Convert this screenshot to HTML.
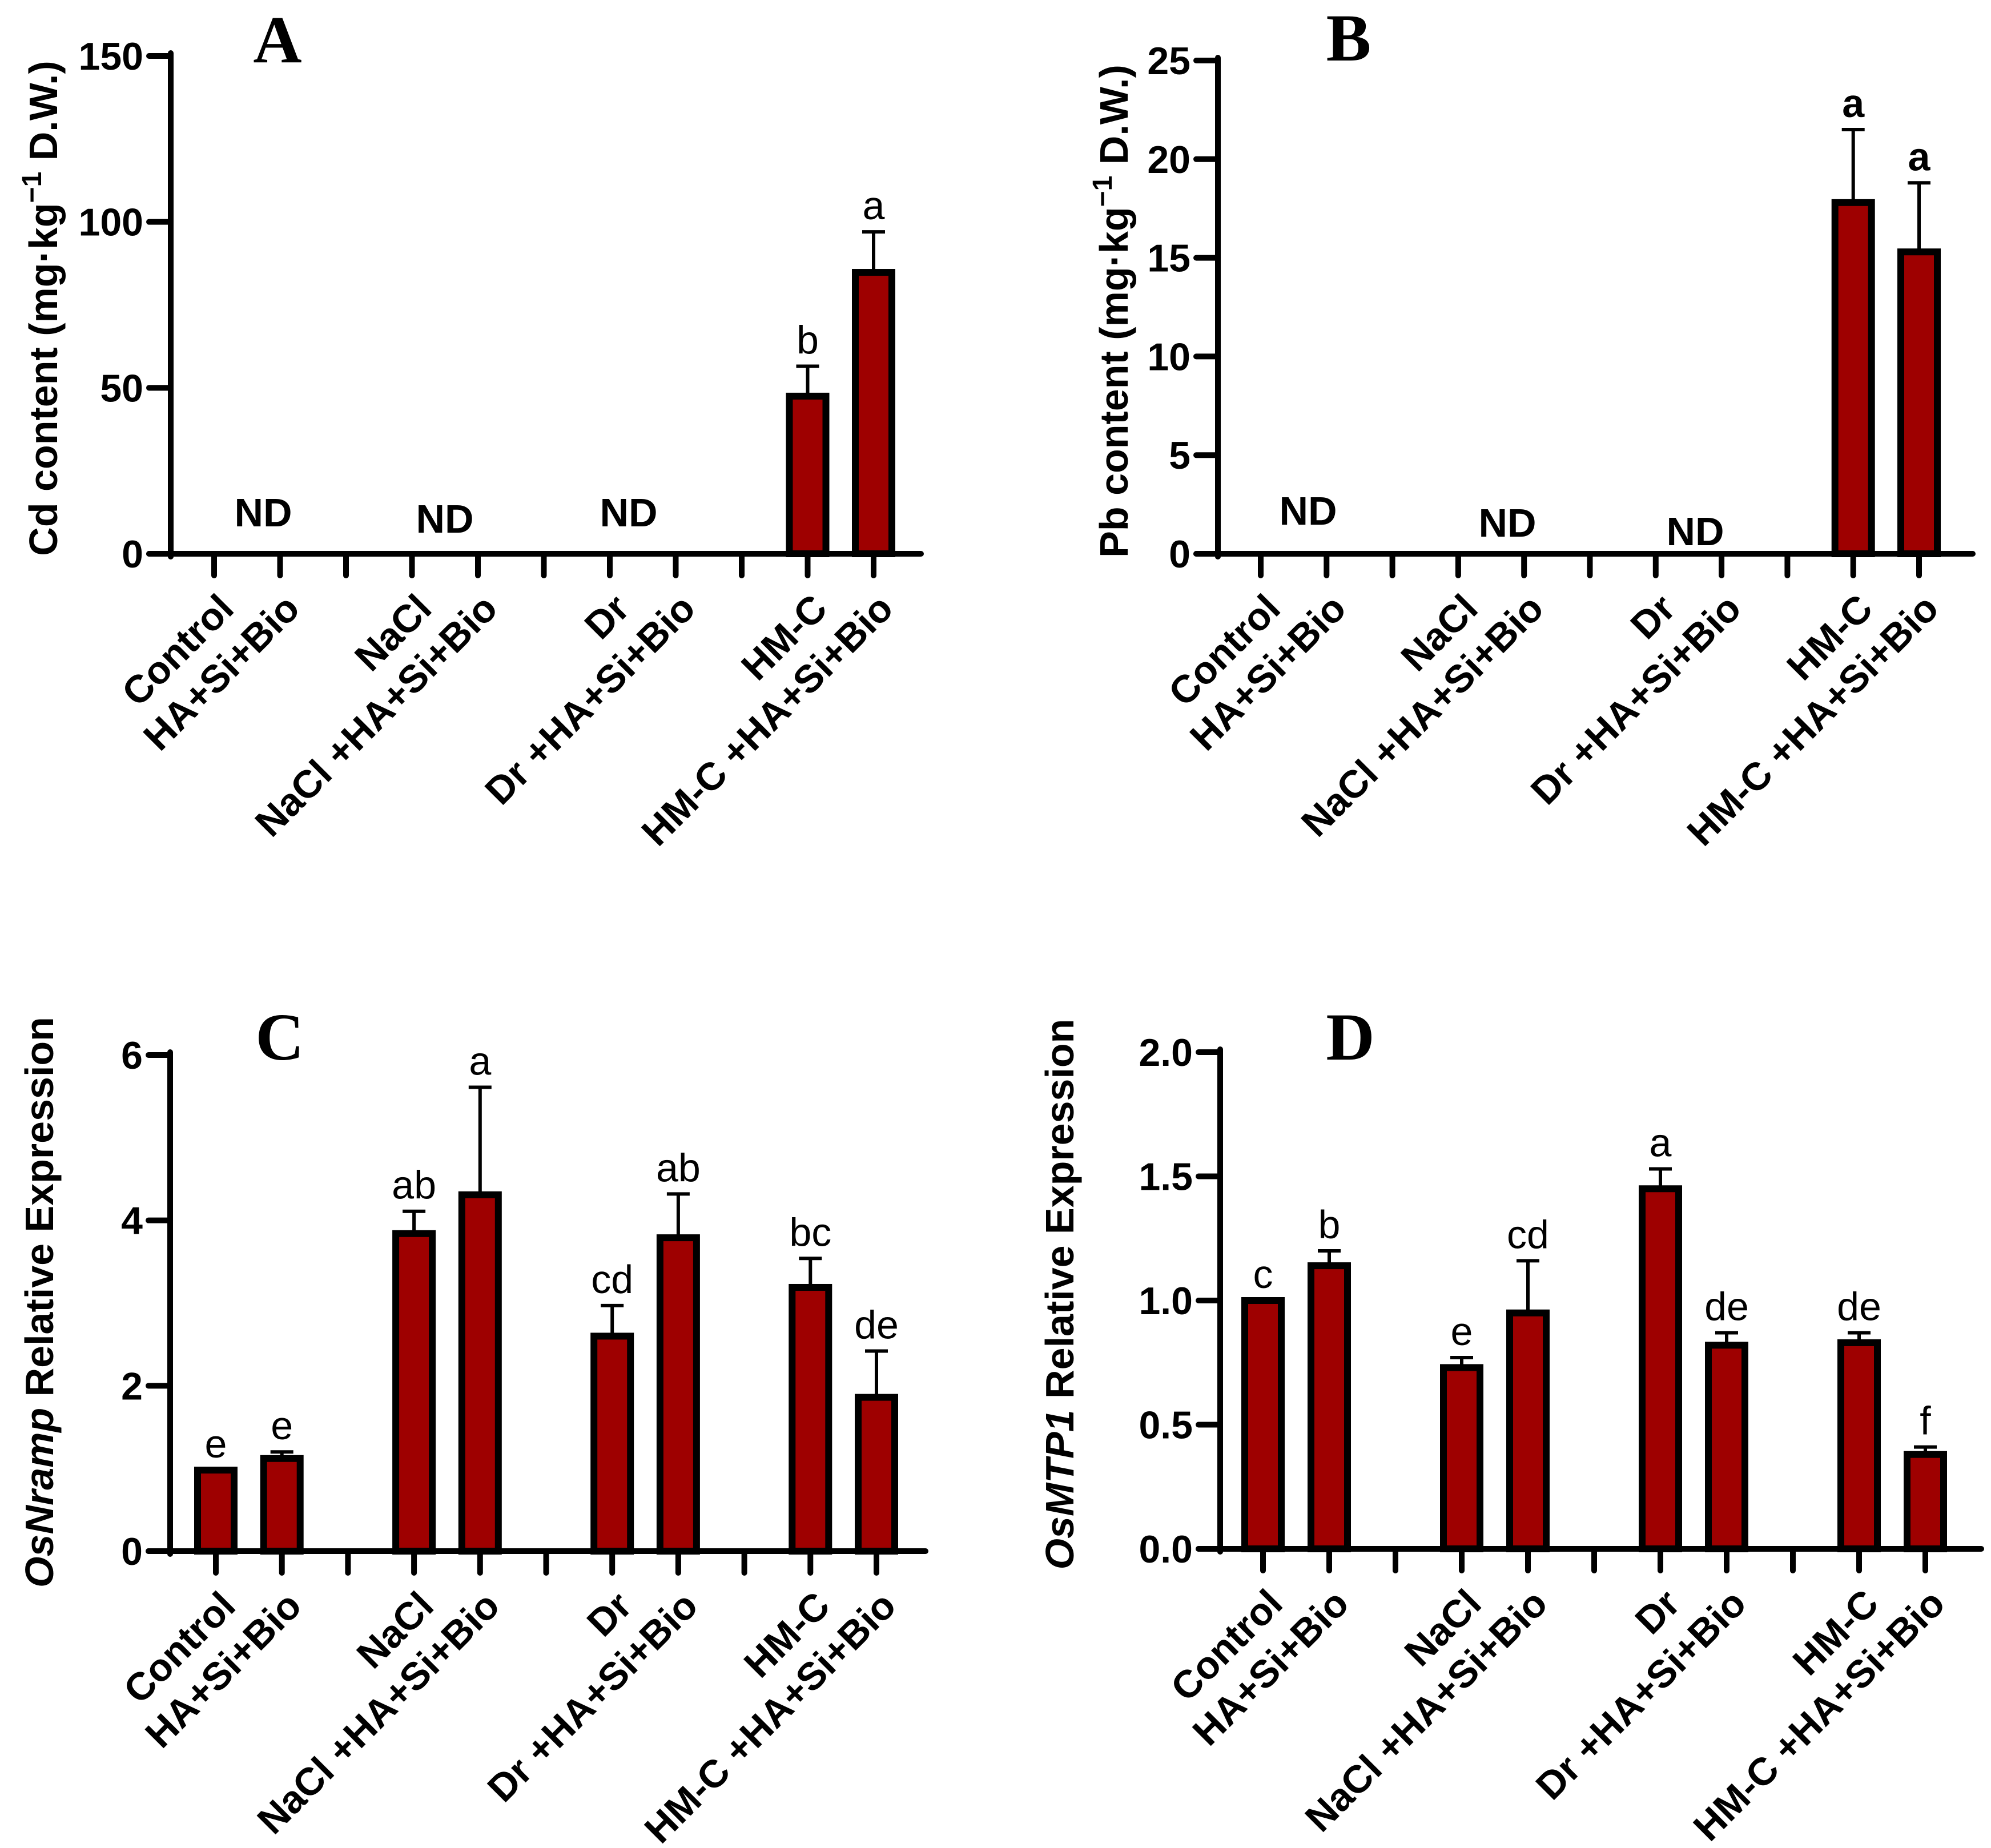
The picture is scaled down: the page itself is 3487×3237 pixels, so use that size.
<!DOCTYPE html>
<html><head><meta charset="utf-8"><style>
html,body{margin:0;padding:0;background:#fff}
svg{display:block}
text{font-family:"Liberation Sans",Arial,sans-serif}
text.serif{font-family:"Liberation Serif","Times New Roman",serif}
</style></head><body>
<svg id="fig" width="3487" height="3237" viewBox="0 0 3487 3237" xmlns="http://www.w3.org/2000/svg"></svg>
<script>
const categories = ["Control","HA+Si+Bio","NaCl","NaCl +HA+Si+Bio","Dr","Dr +HA+Si+Bio","HM-C","HM-C +HA+Si+Bio"];
const slotIndex = [0,1,3,4,6,7,9,10];

const cdValues = [null,null,null,null,null,null,47.5,84.8];
const cdErrors = [null,null,null,null,null,null,9.0,12.2];
const cdLetters = ["","","","","","","b","a"];
const cdTicks = [0,50,100,150];

const pbValues = [null,null,null,null,null,null,17.8,15.3];
const pbErrors = [null,null,null,null,null,null,3.7,3.5];
const pbLetters = ["","","","","","","a","a"];
const pbTicks = [0,5,10,15,20,25];

const nrampValues = [0.98,1.12,3.84,4.31,2.60,3.79,3.19,1.86];
const nrampErrors = [0.0,0.08,0.27,1.30,0.37,0.53,0.35,0.56];
const nrampLetters = ["e","e","ab","a","cd","ab","bc","de"];
const nrampTicks = [0,2,4,6];

const mtpValues = [1.0,1.14,0.73,0.95,1.45,0.82,0.83,0.38];
const mtpErrors = [0.0,0.06,0.04,0.21,0.08,0.05,0.04,0.03];
const mtpLetters = ["c","b","e","cd","a","de","de","f"];
const mtpTicks = ["0.0","0.5","1.0","1.5","2.0"];

const NS="http://www.w3.org/2000/svg";
const svg=document.getElementById('fig');
function el(tag,attrs,parent,txt){const e=document.createElementNS(NS,tag);for(const k in attrs)e.setAttribute(k,attrs[k]);if(txt!==undefined)e.textContent=txt;(parent||svg).appendChild(e);return e;}

function panel(cfg){
  const g=el('g',{},svg);
  
  
  const ymax=cfg.ymax;
  const yS=v=>cfg.y0-(v/ymax)*(cfg.y0-cfg.yTop);
  const xS=i=>cfg.x1+i*cfg.step;
  const pl=el('text',{class:'serif',x:cfg.letterX,y:cfg.letterY,'font-weight':'bold','font-size':118,'text-anchor':'middle'},g,cfg.id);
  
  
  const ya=el('line',{x1:cfg.ax,y1:cfg.yTop-5,x2:cfg.ax,y2:cfg.y0+5,stroke:'#000','stroke-width':10,'stroke-linecap':'round'},g);
  
  
  const xa=el('line',{x1:cfg.ax-38,y1:cfg.y0,x2:cfg.axEnd,y2:cfg.y0,stroke:'#000','stroke-width':10,'stroke-linecap':'round'},g);
  
  
  cfg.ticks.forEach(t=>{
    const v=parseFloat(t);const y=yS(v);
    const tl=el('line',{x1:cfg.ax-38,y1:y,x2:cfg.ax,y2:y,stroke:'#000','stroke-width':10,'stroke-linecap':'round'},g);
    
    
    const tx=el('text',{x:cfg.ax-48,y:y+24,'font-size':68,'font-weight':'bold','text-anchor':'end'},g,String(t));
    
    
  });
  for(let i=0;i<11;i++){
    const xt=el('line',{x1:xS(i),y1:cfg.y0,x2:xS(i),y2:cfg.y0+38,stroke:'#000','stroke-width':10,'stroke-linecap':'round'},g);
    
    
  }
  categories.forEach((c,k)=>{
    const x=xS(slotIndex[k])+38,y=cfg.y0+100;
    const t=el('text',{x:x,y:y,'font-size':68,'font-weight':'bold','text-anchor':'end',transform:`rotate(-45 ${x} ${y})`},g,c);
    
    
  });
  cfg.values.forEach((v,k)=>{
    if(v===null)return;
    const cx=xS(slotIndex[k]);const top=yS(v);
    const e=cfg.errors[k];
    if(e>0){
      const et=yS(v+e);
      const el1=el('line',{x1:cx,y1:top,x2:cx,y2:et,stroke:'#000','stroke-width':6},g);
      
      
      const el2=el('line',{x1:cx-20,y1:et,x2:cx+20,y2:et,stroke:'#000','stroke-width':6},g);
      
      
    }
    const b=el('rect',{x:cx-32,y:top,width:64,height:cfg.y0-top,fill:'#9e0000',stroke:'#000','stroke-width':12},g);
    
    
    const lt=cfg.letters[k];
    if(lt){
      const ly=yS(v+(e||0))-22;
      const t=el('text',{x:cx,y:ly,'font-size':70,'font-weight':cfg.boldLetters?'bold':'normal','text-anchor':'middle'},g,lt);
      
      
    }
  });
  (cfg.nd||[]).forEach(n=>{
    const t=el('text',{x:n[0],y:n[1],'font-size':70,'font-weight':'bold','text-anchor':'middle'},g,'ND');
    
    
  });
  const yt=el('text',{x:cfg.ylx,y:cfg.yly,'font-size':70,'font-weight':'bold','text-anchor':'middle',transform:`rotate(-90 ${cfg.ylx} ${cfg.yly})`},g);
  
  
  cfg.ytitle(yt);
}
function ts(parent,txt,attrs){return el('tspan',attrs||{},parent,txt);}

panel({id:'A',ax:299,axEnd:1613,y0:970,yTop:98,ymax:150,x1:375,step:115.5,ticks:cdTicks,
  values:cdValues,errors:cdErrors,letters:cdLetters,letterX:486,letterY:109,
  nd:[[461,922],[779,933],[1101,922]],ylx:100,yly:540,
  ytitle:t=>{ts(t,'Cd content (mg·kg');ts(t,'−1',{dy:-28,'font-size':48});ts(t,' D.W.)',{dy:28});}});
panel({id:'B',ax:2133,axEnd:3455,y0:970,yTop:106,ymax:25,x1:2208,step:115.3,ticks:pbTicks,boldLetters:true,
  values:pbValues,errors:pbErrors,letters:pbLetters,letterX:2362,letterY:106,
  nd:[[2291,919],[2640,940],[2969,955]],ylx:1975,yly:545,
  ytitle:t=>{ts(t,'Pb content (mg·kg');ts(t,'−1',{dy:-28,'font-size':48});ts(t,' D.W.)',{dy:28});}});
panel({id:'C',ax:298,axEnd:1621,y0:2717,yTop:1848,ymax:6,x1:378,step:115.7,ticks:nrampTicks,
  values:nrampValues,errors:nrampErrors,letters:nrampLetters,letterX:490,letterY:1856,ylx:93,yly:2281,
  ytitle:t=>{ts(t,'OsNramp',{'font-style':'italic'});ts(t,' Relative  Expression');}});
panel({id:'D',ax:2137,axEnd:3470,y0:2713,yTop:1843,ymax:2,x1:2212,step:116,ticks:mtpTicks,
  values:mtpValues,errors:mtpErrors,letters:mtpLetters,letterX:2365,letterY:1856,ylx:1880,yly:2267,
  ytitle:t=>{ts(t,'OsMTP1',{'font-style':'italic'});ts(t,' Relative Expression');}});
</script>
</body></html>
